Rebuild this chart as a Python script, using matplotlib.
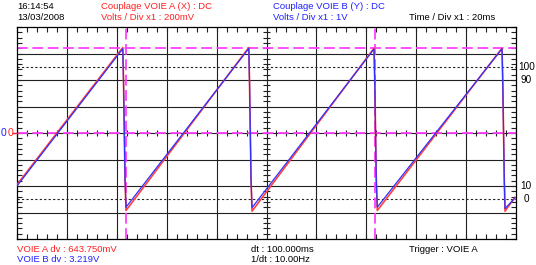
import numpy as np
import matplotlib
matplotlib.use('Agg')
import matplotlib.pyplot as plt
from matplotlib.lines import Line2D

# scope settings
volts_div_a = 0.2   # V/div, channel A
volts_div_b = 1.0   # V/div, channel B
ms_div = 20.0       # ms/div

# channel A (red) in volts, time in ms
t_a = [0.0, 42.4, 42.7, 43.3, 43.7, 92.9, 93.2, 93.8, 94.2,
       143.1, 143.4, 144.0, 144.4, 194.4, 194.7, 195.3, 195.6, 199.6]
v_a = [-0.39, 0.645, 0.38, -0.35, -0.585, 0.645, 0.38, -0.35, -0.59,
       0.64, 0.38, -0.35, -0.585, 0.64, 0.38, -0.35, -0.59, -0.485]

# channel B (blue) in volts, time in ms
t_b = [0.0, 42.4, 42.7, 43.3, 43.7, 92.9, 93.2, 93.8, 94.2,
       143.1, 143.4, 144.0, 144.4, 194.4, 194.7, 195.3, 195.6, 199.6]
v_b = [-2.00, 3.18, 1.9, -1.75, -2.80, 3.19, 1.9, -1.75, -2.82,
       3.17, 1.9, -1.75, -2.80, 3.18, 1.9, -1.75, -2.85, -2.45]

# cursors
cursor_t = [43.6, 143.6]          # ms
cursor_div = [0.0, 3.219]         # div
ref_div = [-2.5, 2.5]             # 0% / 100% lines
ref_labels = [('100', 2.5), ('90', 2.0), ('10', -2.0), ('0', -2.5)]

RED = '#ff2020'
BLUE = '#2020ff'
MAG = '#ff40ff'

plt.rcParams['font.family'] = ['Liberation Sans', 'DejaVu Sans']
W, H = 536, 265
fig = plt.figure(figsize=(W / 100, H / 100), dpi=100)
fig.patch.set_facecolor('white')

x0, x1, y0, y1 = 17, 516, 27, 239
ax = fig.add_axes([x0 / W, 1 - y1 / H, (x1 - x0) / W, (y1 - y0) / H])
ax.set_xlim(0, 10 * ms_div)
ax.set_ylim(-4, 4)

# grid
for i in range(1, 10):
    ax.axvline(i * ms_div, color='#202020', lw=0.8, zorder=1)
for j in range(-3, 4):
    ax.axhline(j, color='#202020', lw=0.8, zorder=1)
for r in ref_div:
    ax.axhline(r, color='#202020', lw=0.8, ls=(0, (2, 2)), zorder=1)

# small ticks on the centre lines
xm = np.arange(0, 200.01, ms_div / 5)
ax.vlines(xm, -0.12, 0.12, color='#202020', lw=0.8, zorder=1)
ym = np.arange(-4, 4.01, 0.2)
ax.hlines(ym, 100 - 1.4, 100 + 1.4, color='#202020', lw=0.8, zorder=1)

ax.set_xticks(np.arange(0, 201, ms_div))
ax.set_yticks(np.arange(-4, 5, 1))
ax.set_xticks(xm, minor=True)
ax.set_yticks(ym, minor=True)
ax.tick_params(which='both', direction='in', top=True, right=True,
               labelbottom=False, labelleft=False, length=3.5, width=0.8,
               color='#202020')
for s in ax.spines.values():
    s.set_linewidth(0.9)
    s.set_color('black')

# cursors
for c in cursor_t:
    ax.axvline(c, color=MAG, lw=1.3, dashes=(6, 2.5), zorder=2)
for c in cursor_div:
    ax.axhline(c, color=MAG, lw=1.3, dashes=(6, 2.5), zorder=2)

# traces
ax.plot(t_a, np.array(v_a) / volts_div_a, color='#ff4040', lw=1.2, zorder=3)
ax.plot(t_b, np.array(v_b) / volts_div_b, color='#3030ff', lw=0.9, zorder=4)

# right-hand % labels
for lab, yv in ref_labels:
    ax.text(1.004 if len(lab) == 3 else 1.009 if len(lab) == 2 else 1.015,
            (yv + 4) / 8, lab, transform=ax.transAxes, fontsize=7.2,
            va='center', ha='left')

fs = 6.8
def ftxt(x, y, s, c='black', ha='left', size=fs):
    fig.text(x / W, 1 - y / H, s, color=c, fontsize=size, ha=ha, va='center')

ftxt(17, 6.5, '16:14:54')
ftxt(17, 17, '13/03/2008')
ftxt(101, 6.5, 'Couplage VOIE A (X) : DC', RED)
ftxt(101, 17, 'Volts / Div x1 : 200mV', RED)
ftxt(273, 6.5, 'Couplage VOIE B (Y) : DC', BLUE)
ftxt(273, 17, 'Volts / Div x1 : 1V', BLUE)
ftxt(409, 17, 'Time / Div x1 : 20ms')
ftxt(17, 249, 'VOIE A dv : 643.750mV', RED)
ftxt(17, 259, 'VOIE B dv : 3.219V', BLUE)
ftxt(251, 249, 'dt : 100.000ms')
ftxt(251, 259, '1/dt : 10.00Hz')
ftxt(409, 249, 'Trigger : VOIE A')

# channel zero markers
ftxt(1, 133, '0', BLUE, size=7.5)
ftxt(8, 133, '0', RED, size=7.5)
fig.add_artist(Line2D([12.5 / W, 17 / W], [1 - 133 / H, 1 - 133 / H],
                      color=RED, lw=1.0))

fig.savefig('out.png', dpi=100, facecolor='white')
